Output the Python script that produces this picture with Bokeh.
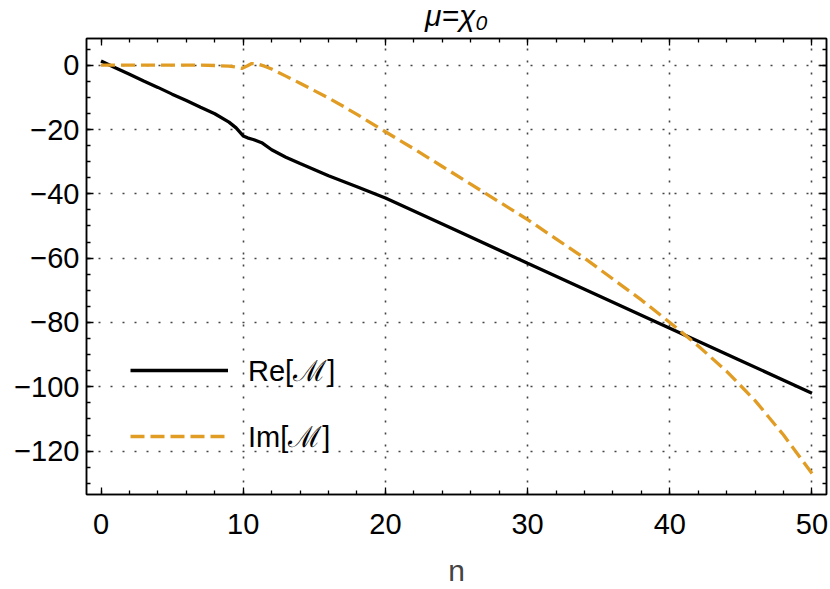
from bokeh.plotting import figure
from bokeh.models import (Range1d, LinearAxis, FixedTicker, Legend, LegendItem,
                          CustomJSTickFormatter, Label)
from bokeh.embed import file_html
from bokeh.resources import INLINE

# ---- data ----
n_re = [0, 1, 2, 3, 4, 5, 6, 7, 8, 9, 9.5, 10, 10.3, 10.7, 11.3, 12, 13, 14, 16, 18, 20,
        25, 30, 35, 40, 45, 50]
re_vals = [1.3, -0.8, -2.8, -4.9, -6.9, -9.0, -11.0, -13.1, -15.1, -17.7, -19.5, -22.0,
           -22.6, -23.1, -24.1, -26.3, -28.6, -30.6, -34.4, -37.8, -41.3,
           -51.4, -61.6, -71.7, -81.8, -91.9, -102.0]

n_im = [0, 2, 4, 6, 7, 8, 9, 9.5, 9.9, 10.3, 10.6, 11.0, 11.5, 12, 13, 14, 15, 16, 17,
        18, 19, 20, 22, 24, 26, 28, 30, 32, 34, 36, 38, 40, 42, 44, 46, 48, 50]
im_vals = [0.0, 0.0, 0.0, 0.0, 0.0, -0.1, -0.3, -0.6, -1.0, -0.2, 0.5, 0.4, -0.3, -1.2,
           -3.4, -5.6, -7.9, -10.2, -12.7, -15.3, -18.0, -20.7, -26.0, -31.5, -37.0,
           -42.5, -48.0, -54.0, -60.0, -66.5, -73.0, -80.0, -87.3, -95.2, -104.3,
           -115.0, -127.0]

x_ticks = [0, 10, 20, 30, 40, 50]
y_ticks = [0, -20, -40, -60, -80, -100, -120]
x_grid = [10, 20, 30, 40, 50]
y_grid = [0, -20, -40, -60, -80, -100, -120]

title_text = "μ=χ₀"
x_label = "n"
labels = ["Re[ℳ]", "Im[ℳ]"]

FONT = "Liberation Sans"
ORANGE = "#e19c24"

W, H = 830, 589
BL, BR, BT, BB = 86, 4, 38, 94

x_minor = list(range(-2, 53, 2))
y_minor = list(range(-135, 10, 5))

p = figure(width=W, height=H, x_range=Range1d(-1.02, 51.02),
           y_range=Range1d(-133.5, 8.3), output_backend="svg",
           toolbar_location=None, min_border_left=BL, min_border_right=BR,
           min_border_top=BT, min_border_bottom=BB)

p.outline_line_color = "black"
p.outline_line_width = 1.5
p.background_fill_color = "white"
p.border_fill_color = "white"

# grid
p.xgrid.ticker = FixedTicker(ticks=x_grid)
p.ygrid.ticker = FixedTicker(ticks=y_grid)
for g in (p.xgrid, p.ygrid):
    g.grid_line_color = "#444444"
    g.grid_line_width = 1.6
    g.grid_line_dash = "2 10"

xt = FixedTicker(ticks=x_ticks, minor_ticks=x_minor)
yt = FixedTicker(ticks=y_ticks, minor_ticks=y_minor)


def style_axis(ax, show_labels):
    ax.axis_line_color = "black"
    ax.axis_line_width = 1.5
    ax.major_tick_in = 7
    ax.major_tick_out = 0
    ax.minor_tick_in = 4
    ax.minor_tick_out = 0
    ax.major_tick_line_width = 1.3
    ax.minor_tick_line_width = 1.3
    ax.major_tick_line_color = "black"
    ax.minor_tick_line_color = "black"
    if show_labels:
        ax.major_label_text_font = FONT
        ax.major_label_text_font_size = "29px"
        ax.major_label_text_color = "black"
    else:
        ax.formatter = CustomJSTickFormatter(code="return ''")
        ax.major_label_standoff = 0


xa = p.xaxis[0]
ya = p.yaxis[0]
xa.ticker = xt
ya.ticker = yt
style_axis(xa, True)
style_axis(ya, True)
xa.major_label_standoff = 19
ya.major_label_standoff = 7
ya.major_label_overrides = {t: str(t).replace("-", "\u2212") for t in y_ticks}
xa.axis_label = x_label
xa.axis_label_text_font = FONT
xa.axis_label_text_font_size = "30px"
xa.axis_label_text_font_style = "normal"
xa.axis_label_standoff = 17

top = LinearAxis(ticker=FixedTicker(ticks=x_ticks, minor_ticks=x_minor))
right = LinearAxis(ticker=FixedTicker(ticks=y_ticks, minor_ticks=y_minor))
style_axis(top, False)
style_axis(right, False)
p.add_layout(top, "above")
p.add_layout(right, "right")

# title as a label in the top panel, centred over the frame
frame_w = W - BL - BR
title = Label(x=frame_w / 2, y=23, x_units="screen", y_units="screen",
              text=title_text, text_align="center", text_baseline="alphabetic",
              text_font=FONT, text_font_size="30px", text_font_style="italic",
              text_color="black")
p.add_layout(title, "above")

r1 = p.line(n_re, re_vals, line_color="black", line_width=3.3)
r2 = p.line(n_im, im_vals, line_color=ORANGE, line_width=3.3, line_dash="14 6")

legend = Legend(items=[LegendItem(label=labels[0], renderers=[r1]),
                       LegendItem(label=labels[1], renderers=[r2])],
                location=(44, 39), background_fill_alpha=0, border_line_alpha=0,
                glyph_width=98, glyph_height=30, label_height=30, label_standoff=20,
                spacing=27, padding=0, margin=0,
                label_text_font=FONT, label_text_font_size="29px",
                label_text_color="black")
p.add_layout(legend)

open("out.html", "w").write(file_html(p, INLINE))
